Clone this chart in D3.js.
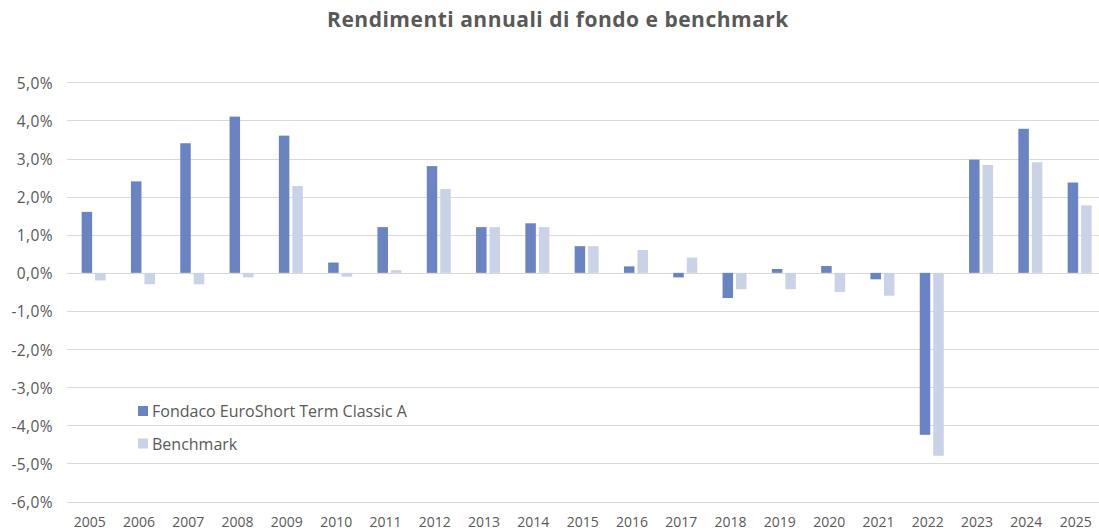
<!DOCTYPE html>
<meta charset="utf-8">
<head>
<script src="https://d3js.org/d3.v7.min.js"></script>
<style>
  body { margin: 0; background: #fff; }
  text { font-family: "Open Sans", Lato, sans-serif; fill: #595959; }
</style>
</head>
<body>
<svg id="chart" width="1099" height="531"></svg>
<script>
// Data
var years = ["2005","2006","2007","2008","2009","2010","2011","2012","2013","2014","2015",
             "2016","2017","2018","2019","2020","2021","2022","2023","2024","2025"];
var fondo = [1.6, 2.4, 3.4, 4.1, 3.6, 0.27, 1.2, 2.8, 1.2, 1.3, 0.7,
             0.17, -0.12, -0.66, 0.1, 0.18, -0.17, -4.25, 2.97, 3.78, 2.37];
var benchmark = [-0.2, -0.3, -0.3, -0.12, 2.28, -0.1, 0.07, 2.2, 1.2, 1.2, 0.7,
                 0.6, 0.4, -0.43, -0.43, -0.5, -0.6, -4.8, 2.83, 2.9, 1.77];
var seriesNames = ["Fondaco EuroShort Term Classic A", "Benchmark"];
var colors = ["#6a83c3", "#c9d2e6"];
var yTicks = [5, 4, 3, 2, 1, 0, -1, -2, -3, -4, -5, -6];

var svg = d3.select("#chart");
var left = 69, step = 49.3;

// Scales
var x = d3.scaleBand()
  .domain(years)
  .range([left, left + step * years.length]);

var x1 = d3.scaleBand()
  .domain([0, 1])
  .range([12.65, 36.65])
  .paddingInner(0.222);

var y = d3.scaleLinear()
  .domain([-6, 5])
  .range([501.5, 82.3]);

// Gridlines
svg.append("g")
  .selectAll("line")
  .data(yTicks)
  .enter().append("line")
    .attr("x1", 67)
    .attr("x2", 1099)
    .attr("y1", function(d) { return Math.round(y(d)) + 0.5; })
    .attr("y2", function(d) { return Math.round(y(d)) + 0.5; })
    .attr("stroke", "#d9d9d9")
    .attr("stroke-width", 1);

// Y labels
var fmt = function(d) { return d.toFixed(1).replace(".", ",") + "%"; };
svg.append("g")
  .selectAll("text")
  .data(yTicks)
  .enter().append("text")
    .attr("x", 53)
    .attr("y", function(d) { return y(d) + 6.5; })
    .attr("text-anchor", "end")
    .style("font-size", "15.5px")
    .style("letter-spacing", "0.4px")
    .text(fmt);

// Bars
var rows = years.map(function(yr, i) { return { year: yr, vals: [fondo[i], benchmark[i]] }; });
var groups = svg.append("g")
  .selectAll("g")
  .data(rows)
  .enter().append("g")
    .attr("transform", function(d) { return "translate(" + x(d.year) + ",0)"; });

groups.selectAll("rect")
  .data(function(d) { return d.vals.map(function(v, j) { return { v: v, j: j }; }); })
  .enter().append("rect")
    .attr("x", function(d) { return x1(d.j); })
    .attr("width", x1.bandwidth())
    .attr("y", function(d) { return y(Math.max(0, d.v)); })
    .attr("height", function(d) { return Math.abs(y(d.v) - y(0)); })
    .attr("fill", function(d) { return colors[d.j]; });

// X labels
svg.append("g")
  .selectAll("text")
  .data(years)
  .enter().append("text")
    .attr("x", function(d) { return x(d) + x.bandwidth() / 2 - 4; })
    .attr("y", 527)
    .attr("text-anchor", "middle")
    .style("font-size", "14px")
    .text(function(d) { return d; });

// Title
svg.append("text")
  .attr("x", 558)
  .attr("y", 27)
  .attr("text-anchor", "middle")
  .style("font-size", "21px")
  .style("font-weight", "bold")
  .style("letter-spacing", "0.5px")
  .text("Rendimenti annuali di fondo e benchmark");

// Legend
var legend = svg.append("g")
  .selectAll("g")
  .data(seriesNames)
  .enter().append("g")
    .attr("transform", function(d, i) { return "translate(138," + (406 + i * 32.5) + ")"; });
legend.append("rect")
  .attr("width", 10)
  .attr("height", 10)
  .attr("fill", function(d, i) { return colors[i]; });
legend.append("text")
  .attr("x", 14)
  .attr("y", 11)
  .style("font-size", "16px")
  .text(function(d) { return d; });
</script>
</body>
</html>
